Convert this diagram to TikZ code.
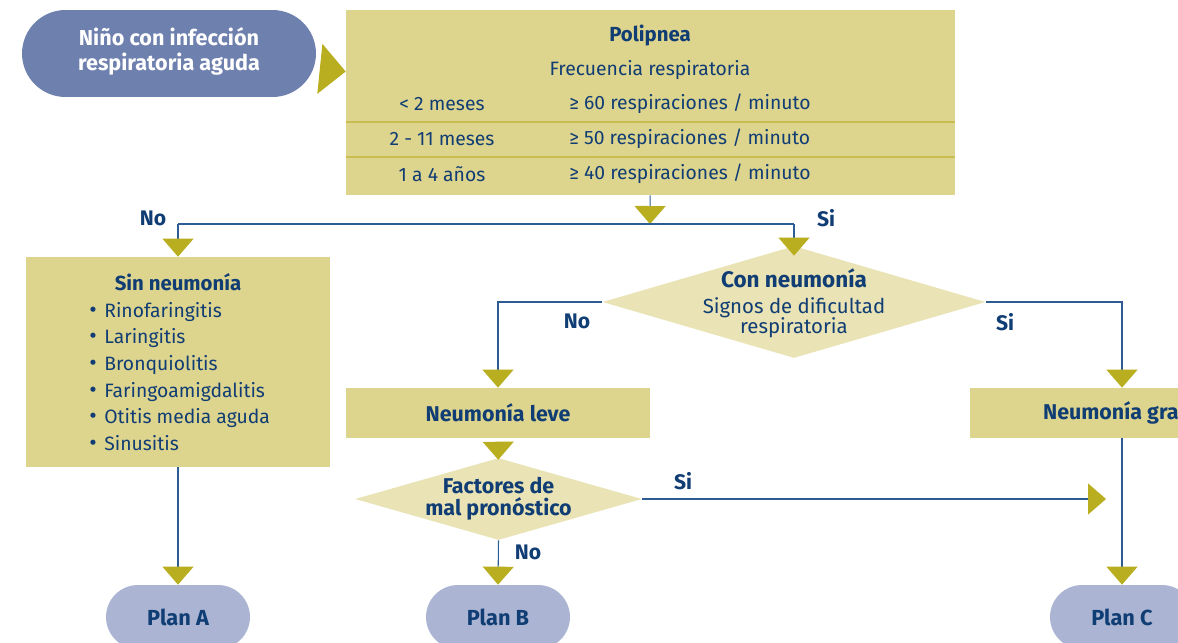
\documentclass[tikz,border=0pt]{standalone}
\usepackage{fontspec}
\setmainfont{Fira Sans}
\usepackage{tikz}
\usepackage{xcolor}
\usetikzlibrary{arrows.meta,shapes.geometric,backgrounds,positioning}

\definecolor{boxfill}{HTML}{DDD48E}
\definecolor{diafill}{HTML}{E9E3B5}
\definecolor{tipcol}{HTML}{B8AE20}
\definecolor{linecol}{HTML}{2D5C95}
\definecolor{txtcol}{HTML}{103D73}
\definecolor{startfill}{HTML}{6E80AE}
\definecolor{planfill}{HTML}{ABB5D3}
\definecolor{sepcol}{HTML}{C9BC50}

\tikzset{
  txt/.style={text=txtcol, font=\fontsize{11}{13}\selectfont, inner sep=0pt},
  boldtxt/.style={txt, font=\fontsize{11.6}{13.5}\selectfont\bfseries},
  lbl/.style={txt, font=\fontsize{12}{14}\selectfont\bfseries},
  box/.style={fill=boxfill, inner sep=0pt, text=txtcol, font=\fontsize{12.2}{14}\selectfont\bfseries},
  dia/.style={diamond, fill=diafill, inner sep=-4pt, text=txtcol, align=center},
  pill/.style={fill=planfill, minimum width=2.88cm, minimum height=1.28cm,
    rounded corners=0.64cm, text=txtcol, font=\fontsize{12.4}{14}\selectfont\bfseries},
  flow/.style={draw=linecol, line width=0.6pt,
    -{Triangle[width=0.62cm,length=0.36cm,color=tipcol]}},
  sepline/.style={draw=sepcol, line width=1pt}
}

\newcommand{\bulitem}[1]{\makebox[0.3cm][l]{\fontsize{13}{13}\selectfont\textbullet}#1}

\begin{document}
\begin{tikzpicture}[x=0.02cm,y=-0.02cm]

\useasboundingbox (0,0) rectangle (1178,643);
\clip (0,0) rectangle (1178,643);

% top row
\node [fill=startfill, minimum width=5.88cm, minimum height=1.74cm, rounded corners=0.87cm,
  text=white, align=center, font=\fontsize{12.3}{14.6}\selectfont\bfseries] (start) at (169,53.5)
  {Niño con infección\\respiratoria aguda\rule[-5pt]{0pt}{1pt}};

\node [box, minimum width=12.18cm, minimum height=3.7cm] (poli) at (650.5,102.5) {};
\draw [sepline] (poli.west |- 0,122) -- (poli.east |- 0,122);
\draw [sepline] (poli.west |- 0,157) -- (poli.east |- 0,157);

\node [boldtxt] (politit) at (650,35) {Polipnea};
\node [txt] (frec) at (650,70) {Frecuencia respiratoria};
\node [txt] (edad1) at (442,104) {< 2 meses};
\node [txt] (edad2) at (442,139) {2 - 11 meses};
\node [txt] (edad3) at (442,174) {1 a 4 años};
\node [txt, anchor=west] (frec1) at (569,104) {≥ 60 respiraciones / minuto};
\node [txt, anchor=west] (frec2) at (569,139) {≥ 50 respiraciones / minuto};
\node [txt, anchor=west] (frec3) at (569,174) {≥ 40 respiraciones / minuto};

% second row
\node [box, minimum width=6.08cm, minimum height=4.2cm] (sinneu) at (178,362) {};
\node [boldtxt] (sintit) at (178,282) {Sin neumonía};
\node [txt, anchor=north west, align=left, font=\fontsize{11}{15.1}\selectfont] (sinlist) at (89,302)
  {\bulitem{Rinofaringitis}\\
   \bulitem{Laringitis}\\
   \bulitem{Bronquiolitis}\\
   \bulitem{Faringoamigdalitis}\\
   \bulitem{Otitis media aguda}\\
   \bulitem{Sinusitis}};

\node [dia, aspect=3.42, minimum width=7.66cm, minimum height=2.24cm] (conneu) at (794,302)
  {\rule{0pt}{12pt}{\fontsize{12.8}{14}\selectfont\bfseries Con neumonía}\\[3pt]
   {\fontsize{11.6}{12.5}\selectfont Signos de dificultad}\\[-1pt]
   {\fontsize{11.6}{12.5}\selectfont respiratoria}};

% third row
\node [box, minimum width=6.08cm, minimum height=1cm] (leve) at (498,413) {Neumonía leve};
\node [box, minimum width=6.08cm, minimum height=1cm] (grave) at (1122,413) {Neumonía grave};

\node [dia, aspect=3.5, minimum width=5.74cm, minimum height=1.64cm,
  font=\fontsize{12.2}{12.6}\selectfont\bfseries] (fact) at (498.5,499)
  {Factores de\\mal pronóstico};

% plans
\node [pill] (planA) at (178,617) {Plan A};
\node [pill] (planB) at (498,617) {Plan B};
\node [pill] (planC) at (1122,617) {Plan C};

\coordinate (split) at (650,224);
\coordinate (meet) at (fact.east -| grave.south);

% connectors
\draw [flow, shorten <=0.1cm, -{Triangle[width=1cm,length=0.52cm,color=tipcol]}] (start) -- (poli);
\draw [flow] (poli) -- (split);
\draw [draw=linecol, line width=0.6pt] (split) -- (split -| sinneu.north);
\draw [draw=linecol, line width=0.6pt] (split) -- (split -| conneu.north);
\draw [flow] (split -| sinneu.north) -- (sinneu.north);
\draw [flow, shorten >=-0.2cm] (split -| conneu.north) -- (conneu.north);
\draw [flow] (conneu.west) -| (leve.north);
\draw [flow] (conneu.east) -| (grave.north);
\draw [flow, shorten <=0.1cm, shorten >=-0.04cm] (leve) -- (fact);
\draw [flow] (fact.south) -- (planB.north);
\draw [flow, shorten >=0.32cm] (fact.east) -- (meet);
\draw [flow] (sinneu) -- (planA);
\draw [flow] (grave) -- (planC);

% labels
\node [lbl] (noA) at (153,218) {No};
\node [lbl] (siA) at (826,218) {Si};
\node [lbl] (noB) at (577,321) {No};
\node [lbl] (siB) at (1005,322) {Si};
\node [lbl] (siC) at (683,481) {Si};
\node [lbl] (noC) at (528,552) {No};

\end{tikzpicture}
\end{document}
